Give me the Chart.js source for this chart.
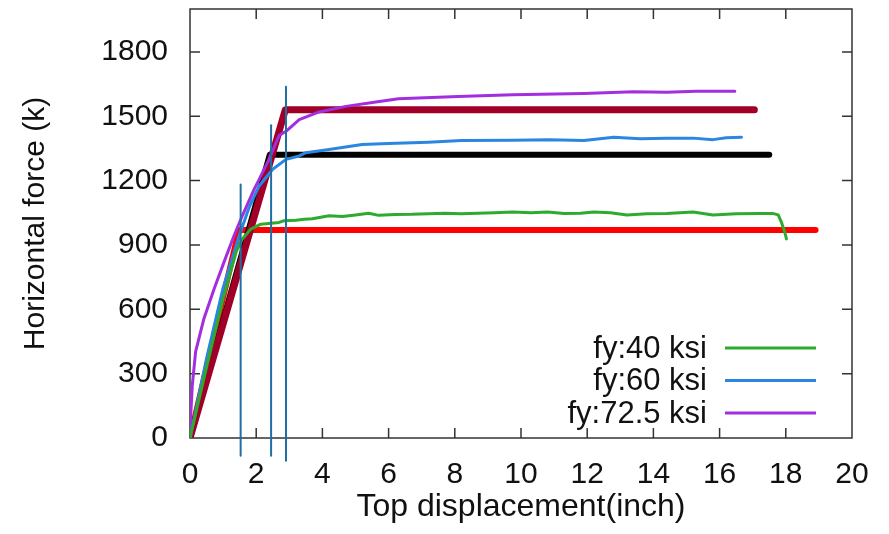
<!DOCTYPE html>
<html>
<head>
<meta charset="utf-8">
<script src="https://cdn.jsdelivr.net/npm/chart.js@4.4.1/dist/chart.umd.min.js"></script>
<style>
  body { margin: 0; background: #fff; }
</style>
</head>
<body>
<canvas id="grafico" width="889" height="534"></canvas>
<script>
// Curvas pushover (deslocamento no topo x força horizontal)
const fy40X = [0, 0.5, 1.0, 1.4, 1.58, 1.84, 2.14, 2.69, 2.84, 3.2, 3.45, 3.7, 4.2, 4.6, 5.0, 5.4, 5.7, 6.2, 6.7, 7.2, 7.7, 8.2, 8.7, 9.2, 9.75, 10.3, 10.8, 11.3, 11.8, 12.2, 12.7, 13.2, 13.8, 14.4, 15.2, 15.8, 16.5, 17.2, 17.6, 17.77, 17.87, 17.97, 18.02];
const fy40Y = [0, 330, 650, 870, 928, 974, 997, 1005, 1013, 1015, 1020, 1022, 1036, 1033, 1040, 1048, 1038, 1042, 1043, 1046, 1048, 1046, 1048, 1050, 1054, 1050, 1054, 1047, 1048, 1054, 1050, 1040, 1046, 1047, 1054, 1040, 1046, 1047, 1047, 1040, 1005, 959, 928];

const fy60X = [0, 0.5, 1.0, 1.5, 1.8, 2.09, 2.49, 2.9, 3.3, 3.5, 4.2, 5.2, 6.0, 7.2, 8.2, 9.75, 10.86, 11.9, 12.8, 13.6, 14.4, 15.2, 15.8, 16.2, 16.66];
const fy60Y = [0, 370, 700, 950, 1080, 1175, 1252, 1299, 1315, 1330, 1345, 1368, 1373, 1379, 1387, 1388, 1391, 1387, 1402, 1395, 1398, 1398, 1391, 1400, 1402];

const fy72X = [0, 0.02, 0.07, 0.17, 0.42, 0.73, 1.03, 1.33, 1.58, 1.94, 2.09, 2.39, 2.69, 2.9, 3.3, 3.9, 4.71, 5.72, 6.3, 7.5, 8.1, 9.75, 11.9, 13.4, 14.4, 15.3, 16.46];
const fy72Y = [0, 100, 247, 403, 556, 696, 821, 943, 1036, 1160, 1206, 1300, 1410, 1430, 1484, 1520, 1546, 1569, 1582, 1589, 1592, 1600, 1606, 1614, 1612, 1616, 1616];

// Idealizações bilineares
const bi40X = [0, 1.48, 18.9];
const bi40Y = [0, 970, 970];
const bi60X = [0, 2.41, 17.5];
const bi60Y = [0, 1320, 1320];
const bi72X = [0, 2.88, 17.05];
const bi72Y = [0, 1530, 1530];

// Linhas verticais de escoamento
const escX = [1.53, 2.45, 2.9];
const escBase = [-83, -83, -106];
const escTopo = [1182, 1458, 1638];

const xTicks = [0, 2, 4, 6, 8, 10, 12, 14, 16, 18, 20];
const yTicks = [0, 300, 600, 900, 1200, 1500, 1800];

const pts = (xs, ys) => xs.map((x, i) => ({ x: x, y: ys[i] }));

const fonte = "'Liberation Sans', Arial, sans-serif";

const verticais = escX.map((x, i) => ({
  label: "esc" + i,
  data: pts([x, x], [escBase[i], escTopo[i]]),
  borderColor: "#1f6fa3",
  borderWidth: 2,
  clip: false,
}));

const datasets = [
  ...verticais,
  { label: "fy:40 ksi", data: pts(fy40X, fy40Y), borderColor: "#2eaa2e", borderWidth: 3, legenda: true },
  { label: "fy:60 ksi", data: pts(fy60X, fy60Y), borderColor: "#2a86e0", borderWidth: 3, legenda: true },
  { label: "fy:72.5 ksi", data: pts(fy72X, fy72Y), borderColor: "#a22ee0", borderWidth: 3, legenda: true },
  { label: "bi72", data: pts(bi72X, bi72Y), borderColor: "#a00028", borderWidth: 7 },
  { label: "bi60", data: pts(bi60X, bi60Y), borderColor: "#000000", borderWidth: 6 },
  { label: "bi40", data: pts(bi40X, bi40Y), borderColor: "#ff0000", borderWidth: 6 },
];

// Moldura e marcas internas (estilo gnuplot)
const moldura = {
  id: "moldura",
  beforeDatasetsDraw(chart) {
    const { ctx, chartArea: a, scales } = chart;
    ctx.save();
    ctx.strokeStyle = "#333";
    ctx.lineWidth = 1.5;
    ctx.strokeRect(a.left, a.top, a.right - a.left, a.bottom - a.top);
    ctx.beginPath();
    xTicks.slice(1, -1).forEach((v) => {
      const px = scales.x.getPixelForValue(v);
      ctx.moveTo(px, a.bottom); ctx.lineTo(px, a.bottom - 10);
      ctx.moveTo(px, a.top); ctx.lineTo(px, a.top + 10);
    });
    yTicks.slice(1).forEach((v) => {
      const py = scales.y.getPixelForValue(v);
      ctx.moveTo(a.left, py); ctx.lineTo(a.left + 10, py);
      ctx.moveTo(a.right, py); ctx.lineTo(a.right - 10, py);
    });
    ctx.stroke();
    ctx.restore();
  },
  afterDraw(chart) {
    const { ctx } = chart;
    const itens = chart.data.datasets.filter((d) => d.legenda);
    ctx.save();
    ctx.font = "31px " + fonte;
    ctx.fillStyle = "#111";
    ctx.textAlign = "right";
    ctx.textBaseline = "middle";
    itens.forEach((d, i) => {
      const y = 348 + i * 32.5;
      ctx.fillText(d.label, 707, y + 1);
      ctx.strokeStyle = d.borderColor;
      ctx.lineWidth = 3;
      ctx.beginPath();
      ctx.moveTo(725, y);
      ctx.lineTo(816, y);
      ctx.stroke();
    });
    ctx.restore();
  },
};

new Chart(document.getElementById("grafico"), {
  type: "line",
  data: { datasets: datasets },
  options: {
    responsive: false,
    animation: false,
    layout: { padding: { top: 9, right: 37, left: 0, bottom: 0 } },
    elements: {
      point: { radius: 0 },
      line: { tension: 0, borderCapStyle: "round", borderJoinStyle: "round" },
    },
    plugins: { legend: { display: false }, tooltip: { enabled: false } },
    scales: {
      x: {
        type: "linear",
        min: 0,
        max: 20,
        afterBuildTicks: (s) => { s.ticks = xTicks.map((v) => ({ value: v })); },
        afterFit: (s) => { s.height = 96; s.paddingLeft = 0; s.paddingRight = 0; },
        grid: { display: false, drawTicks: false },
        border: { display: false },
        ticks: {
          font: { family: fonte, size: 30 },
          color: "#111",
          padding: 19,
          maxRotation: 0,
          callback: (v) => String(v),
        },
        title: {
          display: true,
          text: "Top displacement(inch)",
          font: { family: fonte, size: 32 },
          color: "#111",
          padding: { top: 0, bottom: 8 },
        },
      },
      y: {
        min: 0,
        max: 2000,
        afterBuildTicks: (s) => { s.ticks = yTicks.map((v) => ({ value: v })); },
        afterFit: (s) => { s.width = 190; s.paddingTop = 0; s.paddingBottom = 0; },
        grid: { display: false, drawTicks: false },
        border: { display: false },
        ticks: {
          font: { family: fonte, size: 30 },
          color: "#111",
          padding: 22,
          callback: (v) => String(v),
        },
        title: {
          display: true,
          text: "Horizontal force (k)",
          font: { family: fonte, size: 30 },
          color: "#111",
          padding: { top: 18, bottom: 0 },
        },
      },
    },
  },
  plugins: [moldura],
});
</script>
</body>
</html>
